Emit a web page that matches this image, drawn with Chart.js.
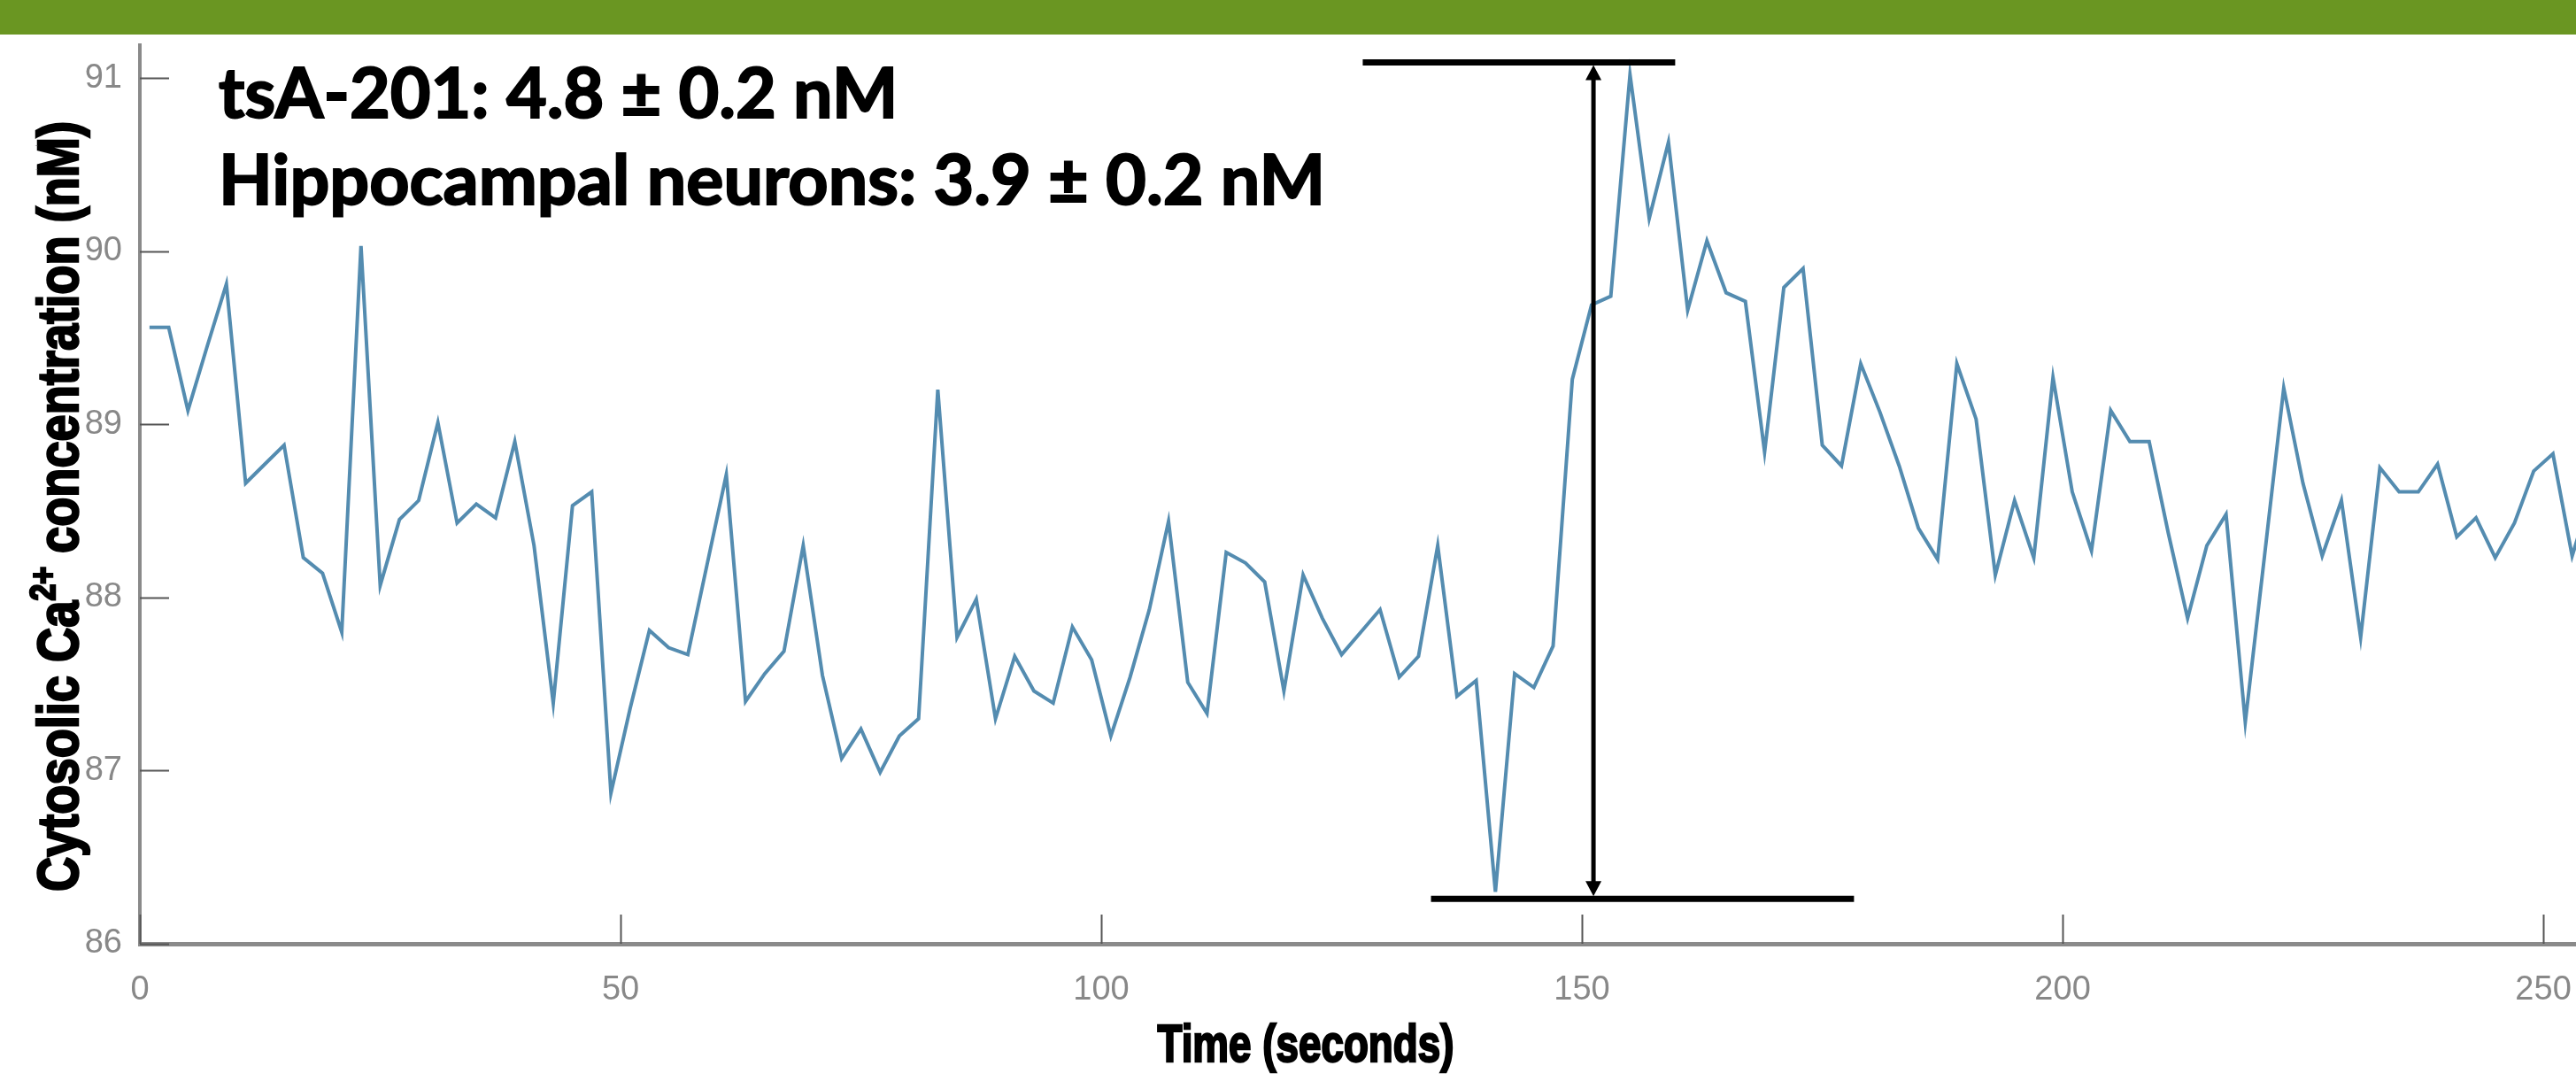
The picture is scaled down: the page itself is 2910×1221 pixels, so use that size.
<!DOCTYPE html>
<html>
<head>
<meta charset="utf-8">
<script src="https://cdn.jsdelivr.net/npm/chart.js@4.4.0/dist/chart.umd.min.js"></script>
<style>
html, body { margin: 0; padding: 0; background: #fff; overflow: hidden; }
#wrap { width: 2910px; height: 1221px; position: relative; }
</style>
</head>
<body>
<div id="wrap"><canvas id="mycanvas"></canvas></div>
<script>
// sample times (s)
var times = [
	1, 3, 5, 7, 9, 11, 13, 15, 17, 19, 21, 23, 25, 27, 29, 31,
	33, 35, 37, 39, 41, 43, 45, 47, 49, 51, 53, 55, 57, 59, 61, 63,
	65, 67, 69, 71, 73, 75, 77, 79, 81, 83, 85, 87, 89, 91, 93, 95,
	97, 99, 101, 103, 105, 107, 109, 111, 113, 115, 117, 119, 121, 123, 125, 127,
	129, 131, 133, 135, 137, 139, 141, 143, 145, 147, 149, 151, 153, 155, 157, 159,
	161, 163, 165, 167, 169, 171, 173, 175, 177, 179, 181, 183, 185, 187, 189, 191,
	193, 195, 197, 199, 201, 203, 205, 207, 209, 211, 213, 215, 217, 219, 221, 223,
	225, 227, 229, 231, 233, 235, 237, 239, 241, 243, 245, 247, 249, 251, 253, 255
];
// cytosolic Ca2+ (nM)
var calcium = [
	89.56, 89.56, 89.08, 89.45, 89.81, 88.66, 88.77, 88.88, 88.23, 88.14, 87.80, 90.03, 88.07, 88.45, 88.56, 89.01,
	88.43, 88.54, 88.46, 88.90, 88.30, 87.39, 88.53, 88.61, 86.87, 87.36, 87.81, 87.71, 87.67, 88.19, 88.71, 87.40,
	87.56, 87.69, 88.30, 87.55, 87.07, 87.24, 86.99, 87.20, 87.30, 89.20, 87.77, 87.99, 87.30, 87.66, 87.46, 87.39,
	87.83, 87.64, 87.20, 87.54, 87.93, 88.44, 87.51, 87.33, 88.26, 88.20, 88.09, 87.46, 88.13, 87.88, 87.67, 87.80,
	87.93, 87.54, 87.66, 88.30, 87.43, 87.52, 86.30, 87.56, 87.48, 87.72, 89.26, 89.69, 89.74, 91.02, 90.19, 90.63,
	89.66, 90.06, 89.76, 89.71, 88.84, 89.79, 89.90, 88.88, 88.76, 89.35, 89.07, 88.76, 88.40, 88.22, 89.35, 89.03,
	88.13, 88.56, 88.23, 89.27, 88.61, 88.27, 89.08, 88.90, 88.90, 88.37, 87.88, 88.30, 88.48, 87.28, 88.24, 89.21,
	88.66, 88.24, 88.56, 87.77, 88.75, 88.61, 88.61, 88.77, 88.35, 88.46, 88.23, 88.43, 88.73, 88.83, 88.24, 88.60
];
var xTicks = [0, 50, 100, 150, 200, 250];
var yTicks = [86, 87, 88, 89, 90, 91];
var notes = ["tsA-201: 4.8 \u00b1 0.2 nM", "Hippocampal neurons: 3.9 \u00b1 0.2 nM"];
var xTitle = "Time (seconds)";
var yTitleParts = [["Cytosolic Ca", false], ["2+", true], [" concentration (nM)", false]];

// peak-to-trough bracket (data units)
var bracketTop = { from: 127.2, to: 159.7, level: 91.09 };
var bracketBottom = { from: 134.3, to: 178.3, level: 86.26 };
var bracketAt = 151.2;

var points = [];
for (var i in times) {
	points.push({ x: times[i], y: calcium[i] });
}

var sans = '"Liberation Sans", Arial, sans-serif';

var decor = {
	id: 'decor',
	beforeDraw: function(chart) {
		var c = chart.ctx;
		c.save();
		c.fillStyle = '#fff';
		c.fillRect(0, 0, chart.width, chart.height);
		c.fillStyle = '#6a9622';
		c.fillRect(0, 0, chart.width, 39);
		c.restore();
	},
	afterDraw: function(chart) {
		var c = chart.ctx;
		var xs = chart.scales.x, ys = chart.scales.y;
		var area = chart.chartArea;
		c.save();

		// inward tick marks
		c.strokeStyle = '#555';
		c.lineWidth = 2;
		yTicks.forEach(function(v) {
			var py = Math.round(ys.getPixelForValue(v)) + 0.5;
			c.beginPath(); c.moveTo(area.left, py); c.lineTo(area.left + 33, py); c.stroke();
		});
		xTicks.forEach(function(v) {
			var px = Math.round(xs.getPixelForValue(v)) + 0.5;
			c.beginPath(); c.moveTo(px, area.bottom); c.lineTo(px, area.bottom - 33); c.stroke();
		});

		// bracket
		c.strokeStyle = '#000';
		c.fillStyle = '#000';
		c.lineWidth = 7;
		var ty = ys.getPixelForValue(bracketTop.level);
		var by = ys.getPixelForValue(bracketBottom.level);
		c.beginPath();
		c.moveTo(xs.getPixelForValue(bracketTop.from), ty);
		c.lineTo(xs.getPixelForValue(bracketTop.to), ty);
		c.moveTo(xs.getPixelForValue(bracketBottom.from), by);
		c.lineTo(xs.getPixelForValue(bracketBottom.to), by);
		c.stroke();
		var bx = xs.getPixelForValue(bracketAt);
		c.lineWidth = 5;
		c.beginPath(); c.moveTo(bx, ty + 14); c.lineTo(bx, by - 14); c.stroke();
		c.beginPath();
		c.moveTo(bx, ty + 3); c.lineTo(bx - 9, ty + 20); c.lineTo(bx + 9, ty + 20); c.closePath();
		c.moveTo(bx, by - 3); c.lineTo(bx - 9, by - 20); c.lineTo(bx + 9, by - 20); c.closePath();
		c.fill();

		// notes
		c.fillStyle = '#000';
		c.strokeStyle = '#000';
		c.lineWidth = 2;
		c.font = 'bold 79px Lato, "Open Sans", sans-serif';
		c.textAlign = 'left';
		c.textBaseline = 'alphabetic';
		c.fillText(notes[0], 247, 133);
		c.strokeText(notes[0], 247, 133);
		c.fillText(notes[1], 247, 231);
		c.strokeText(notes[1], 247, 231);

		// x title, condensed
		c.save();
		c.font = 'bold 60px ' + sans;
		c.textAlign = 'center';
		c.lineWidth = 2.5;
		var kx = 335 / c.measureText(xTitle).width;
		c.translate(1475, 1199);
		c.scale(kx, 1);
		c.fillText(xTitle, 0, 0);
		c.strokeText(xTitle, 0, 0);
		c.restore();

		// y title with superscript, condensed
		var big = 'bold 64px ' + sans, small = 'bold 40px ' + sans;
		var total = 0;
		yTitleParts.forEach(function(p) { c.font = p[1] ? small : big; total += c.measureText(p[0]).width; });
		c.translate(88, 572);
		c.rotate(-Math.PI / 2);
		c.scale(870 / total, 1);
		c.textAlign = 'left';
		c.lineWidth = 2.5;
		var pos = -total / 2;
		yTitleParts.forEach(function(p) {
			c.font = p[1] ? small : big;
			c.fillText(p[0], pos, p[1] ? -26 : 0);
			c.strokeText(p[0], pos, p[1] ? -26 : 0);
			pos += c.measureText(p[0]).width;
		});
		c.restore();
	}
};

var ctx = document.getElementById('mycanvas');
var chart = new Chart(ctx, {
	type: 'line',
	data: {
		datasets: [{
			label: 'Cytosolic Ca2+',
			data: points,
			borderColor: 'rgb(84, 140, 176)',
			borderWidth: 4,
			pointRadius: 0,
			tension: 0,
			fill: false
		}]
	},
	options: {
		responsive: true,
		maintainAspectRatio: false,
		animation: false,
		layout: { padding: { top: 51, left: 0, right: 0, bottom: 0 } },
		plugins: { legend: { display: false }, tooltip: { enabled: false } },
		scales: {
			x: {
				type: 'linear',
				min: 0,
				max: 253.4,
				afterBuildTicks: function(s) { s.ticks = xTicks.map(function(v) { return { value: v }; }); },
				afterFit: function(s) { s.height = 155; s.paddingLeft = 0; s.paddingRight = 0; },
				grid: { display: false, drawTicks: false },
				border: { display: true, color: '#8a8a8a', width: 5 },
				ticks: { color: '#888', padding: 30, maxRotation: 0, font: { size: 38, family: sans } }
			},
			y: {
				min: 86,
				max: 91.19,
				afterBuildTicks: function(s) { s.ticks = yTicks.map(function(v) { return { value: v }; }); },
				afterFit: function(s) { s.width = 158; s.paddingTop = 0; s.paddingBottom = 0; },
				grid: { display: false, drawTicks: false },
				border: { display: true, color: '#8a8a8a', width: 4 },
				ticks: { color: '#888', padding: 20, font: { size: 38, family: sans } }
			}
		}
	},
	plugins: [decor]
});
</script>
</body>
</html>
